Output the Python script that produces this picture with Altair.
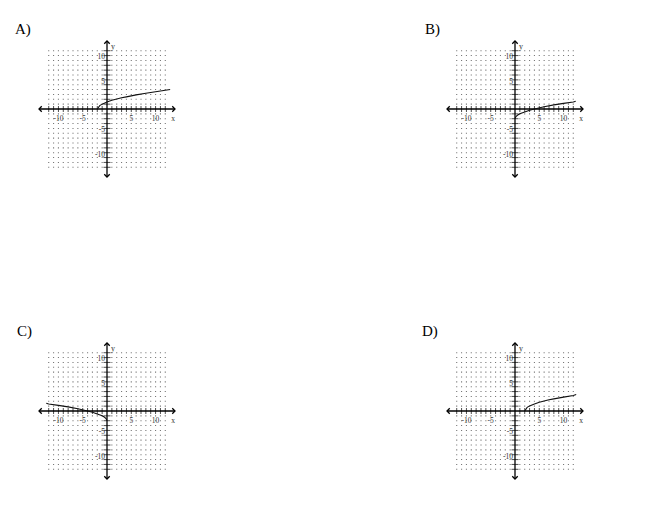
import altair as alt
import pandas as pd

# ---- data ----
grid_vals = list(range(-12, 13))
tick_vals = [v for v in grid_vals if v != 0]
label_vals = [-10, -5, 5, 10]
axis_min, axis_max = -14, 14

# curves (x, y)
a_x = [-2, -1.5, -1, 0, 1, 2, 3, 4, 5, 6, 8, 10, 12, 13]
a_y = [0, 0.7, 1.0, 1.45, 1.8, 2.05, 2.3, 2.5, 2.7, 2.9, 3.25, 3.55, 3.85, 4.0]

b_x = [0, 0.2, 0.5, 1, 2, 3, 4, 6, 8, 10, 12, 12.5]
b_y = [-2, -1.55, -1.3, -1.0, -0.6, -0.25, 0, 0.45, 0.85, 1.15, 1.45, 1.6]

c_x = [-12.5, -12, -10, -8, -6, -4, -3, -2, -1, -0.5, -0.2, 0]
c_y = [1.6, 1.45, 1.15, 0.85, 0.45, 0, -0.25, -0.6, -1.0, -1.3, -1.55, -2]

d_x = [2, 2.5, 3, 4, 5, 6, 7, 8, 10, 12, 12.6]
d_y = [0, 0.75, 1.05, 1.45, 1.8, 2.05, 2.3, 2.5, 2.85, 3.2, 3.4]

panel_labels = ["A)", "B)", "C)", "D)"]
title_dx = [-24, -22, -22, -25]

FONT = "Liberation Serif"

xs = alt.Scale(domain=[axis_min, axis_max], nice=False, zero=False)
ys = alt.Scale(domain=[axis_min, axis_max], nice=False, zero=False)

dots = pd.DataFrame([(i, j) for i in grid_vals for j in grid_vals if i != 0 and j != 0],
                    columns=["x", "y"])
xt = pd.DataFrame({"x": tick_vals, "y": [0] * len(tick_vals)})
yt = pd.DataFrame({"x": [0] * len(tick_vals), "y": tick_vals})
xl = pd.DataFrame({"x": label_vals, "y": [0] * 4, "t": [str(v) for v in label_vals]})
yl = pd.DataFrame({"x": [0] * 4, "y": label_vals, "t": [str(v) for v in label_vals]})
arrows = pd.DataFrame({
    "x": [axis_min, axis_max, 0, 0],
    "y": [0, 0, axis_max, axis_min],
    "d": ["left", "right", "up", "down"],
})
arrow_paths = ["M1,-1L0,0L1,1", "M-1,-1L0,0L-1,1", "M-1,1L0,0L1,1", "M-1,-1L0,0L1,-1"]
axes_h = pd.DataFrame({"x": [axis_min], "x2": [axis_max], "y": [0]})
axes_v = pd.DataFrame({"x": [0], "y": [axis_min], "y2": [axis_max]})
xname = pd.DataFrame({"x": [axis_max], "y": [0], "t": ["x"]})
yname = pd.DataFrame({"x": [0], "y": [axis_max], "t": ["y"]})


def X(f="x"):
    return alt.X(f"{f}:Q", scale=xs, axis=None)


def Y(f="y"):
    return alt.Y(f"{f}:Q", scale=ys, axis=None)


def panel(label, dx, cx, cy):
    curve = pd.DataFrame({"x": cx, "y": cy})
    l_dots = alt.Chart(dots).mark_square(size=1.2, color="#666", opacity=0.9).encode(x=X(), y=Y())
    l_xt = alt.Chart(xt).mark_tick(orient="vertical", size=6, thickness=1, color="black").encode(x=X(), y=Y())
    l_yt = alt.Chart(yt).mark_tick(orient="horizontal", size=7, thickness=1, color="black").encode(x=X(), y=Y())
    l_h = alt.Chart(axes_h).mark_rule(color="black", strokeWidth=1.3).encode(x=X(), x2="x2:Q", y=Y())
    l_v = alt.Chart(axes_v).mark_rule(color="black", strokeWidth=1.3).encode(x=X(), y=Y(), y2="y2:Q")
    l_arr = alt.Chart(arrows).mark_point(size=30, filled=False, color="black", strokeWidth=1.3, opacity=1).encode(
        x=X(), y=Y(),
        shape=alt.Shape("d:N", scale=alt.Scale(domain=["left", "right", "up", "down"], range=arrow_paths), legend=None),
    )
    l_curve = alt.Chart(curve).mark_line(color="#111", strokeWidth=1.1).encode(x=X(), y=Y(), order="x:Q")
    l_xl = alt.Chart(xl).mark_text(font=FONT, fontSize=7.5, color="#333", baseline="top", dy=6).encode(
        x=X(), y=Y(), text="t:N")
    l_yl = alt.Chart(yl).mark_text(font=FONT, fontSize=7.5, color="#333", align="right", baseline="bottom", dx=-2, dy=1).encode(
        x=X(), y=Y(), text="t:N")
    l_xn = alt.Chart(xname).mark_text(font=FONT, fontSize=7.5, color="#333", align="right", baseline="top", dx=0, dy=6).encode(
        x=X(), y=Y(), text="t:N")
    l_yn = alt.Chart(yname).mark_text(font=FONT, fontSize=8, color="#333", align="left", baseline="top", dx=4, dy=2).encode(
        x=X(), y=Y(), text="t:N")
    return alt.layer(l_dots, l_xt, l_yt, l_h, l_v, l_arr, l_curve, l_xl, l_yl, l_xn, l_yn).properties(
        width=136, height=136,
        title=alt.TitleParams(text=label, anchor="start", frame="group", dx=dx, font=FONT, fontSize=15,
                              fontWeight="normal", baseline="alphabetic", offset=-11, color="black"),
    )


pA = panel(panel_labels[0], title_dx[0], a_x, a_y)
pB = panel(panel_labels[1], title_dx[1], b_x, b_y)
pC = panel(panel_labels[2], title_dx[2], c_x, c_y)
pD = panel(panel_labels[3], title_dx[3], d_x, d_y)

chart = alt.concat(pA, pB, pC, pD, columns=2,
                   spacing=alt.RowColnumber(row=166, column=272), bounds="flush").properties(
    padding={"left": 7, "top": 14, "right": 5, "bottom": 5}
).configure(background="white", view=alt.ViewConfig(stroke=None))

chart.save("out.html", embed_options={"renderer": "svg", "actions": False})
